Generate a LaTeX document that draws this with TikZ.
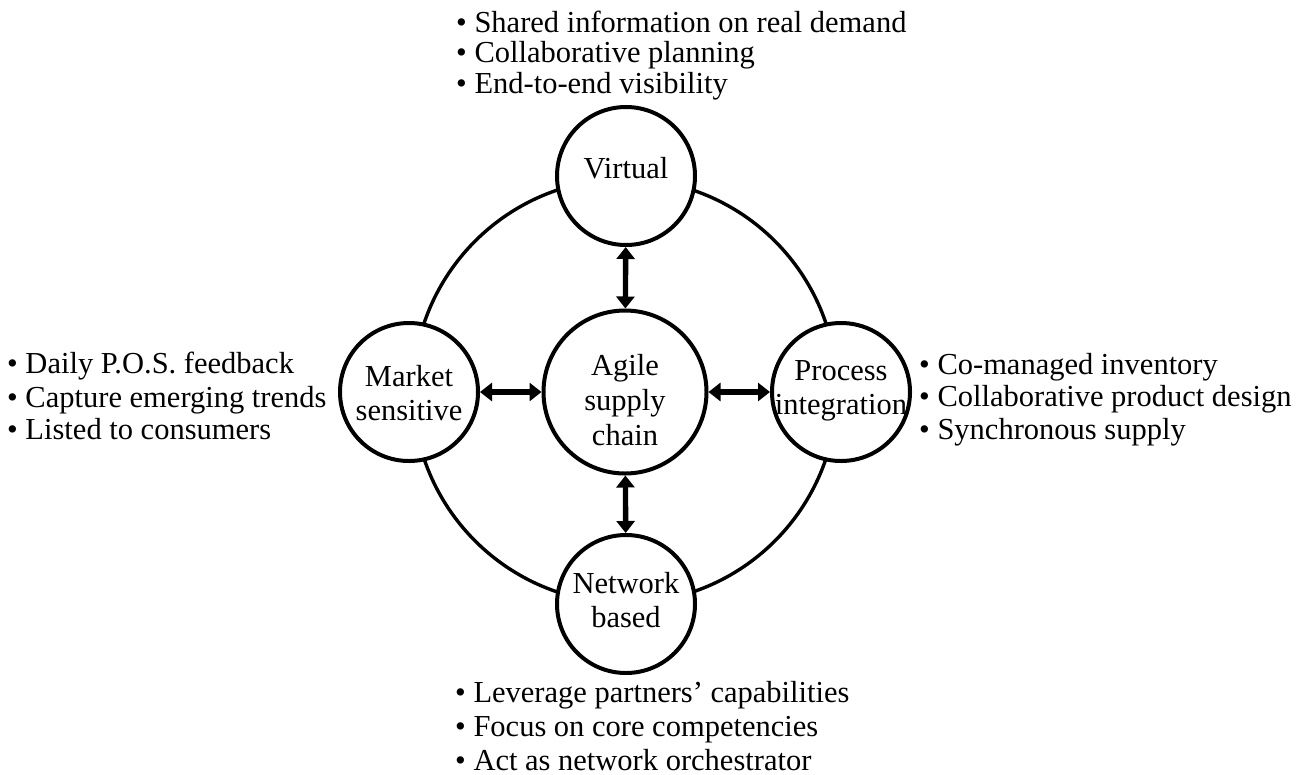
\documentclass[tikz,border=0pt]{standalone}
\usepackage{fontspec}
\setmainfont{Liberation Serif}
\usetikzlibrary{arrows.meta}
\begin{document}
\begin{tikzpicture}[x=1pt,y=-1pt,
  every node/.style={font=\fontsize{30.5}{34}\selectfont},
  bubble/.style={circle,draw=black,line width=4pt,fill=white,inner sep=0pt,
    minimum size=138pt},
  hub/.style={bubble,minimum size=163pt},
  caption/.style={align=center,inner sep=0pt},
  item/.style={anchor=base west,inner sep=0pt},
  link/.style={line width=5.4pt,{Triangle[length=12pt,width=18pt]}-{Triangle[length=12pt,width=18pt]}}
]
\useasboundingbox (0,0) rectangle (1314,774);
\draw[line width=3.4pt] (625,391) circle[radius=212pt];

\node[bubble] (virtual) at (626,176) {};
\node[bubble] (market)  at (409,392) {};
\node[bubble] (process) at (841,392) {};
\node[bubble] (network) at (626,604) {};
\node[hub]    (agile)   at (625,392) {};

\node[caption] (virtualtxt) at (626,168) {Virtual};
\node[caption] (markettxt)  at (409,393) {Market\\sensitive};
\node[caption] (processtxt) at (841,391) {Process\\integration};
\node[caption] (networktxt) at (626,600) {Network\\based};
\node[caption,font=\fontsize{30.5}{35}\selectfont] (agiletxt) at (625,400) {Agile\\supply\\chain};

\draw[link] (virtual) -- (agile);
\draw[link] (agile) -- (network);
\draw[link] (market) -- (agile);
\draw[link] (agile) -- (process);

\node[item] (t1) at (456,32) {• Shared information on real demand};
\node[item] (t2) at (456,62) {• Collaborative planning};
\node[item] (t3) at (456,93) {• End-to-end visibility};

\node[item] (l1) at (7,373) {• Daily P.O.S. feedback};
\node[item] (l2) at (7,407) {• Capture emerging trends};
\node[item] (l3) at (7,439) {• Listed to consumers};

\node[item] (r1) at (919,374) {• Co-managed inventory};
\node[item] (r2) at (919,406) {• Collaborative product design};
\node[item] (r3) at (919,439) {• Synchronous supply};

\node[item] (b1) at (455,702) {• Leverage partners’ capabilities};
\node[item] (b2) at (455,736) {• Focus on core competencies};
\node[item] (b3) at (455,770) {• Act as network orchestrator};
\end{tikzpicture}
\end{document}
